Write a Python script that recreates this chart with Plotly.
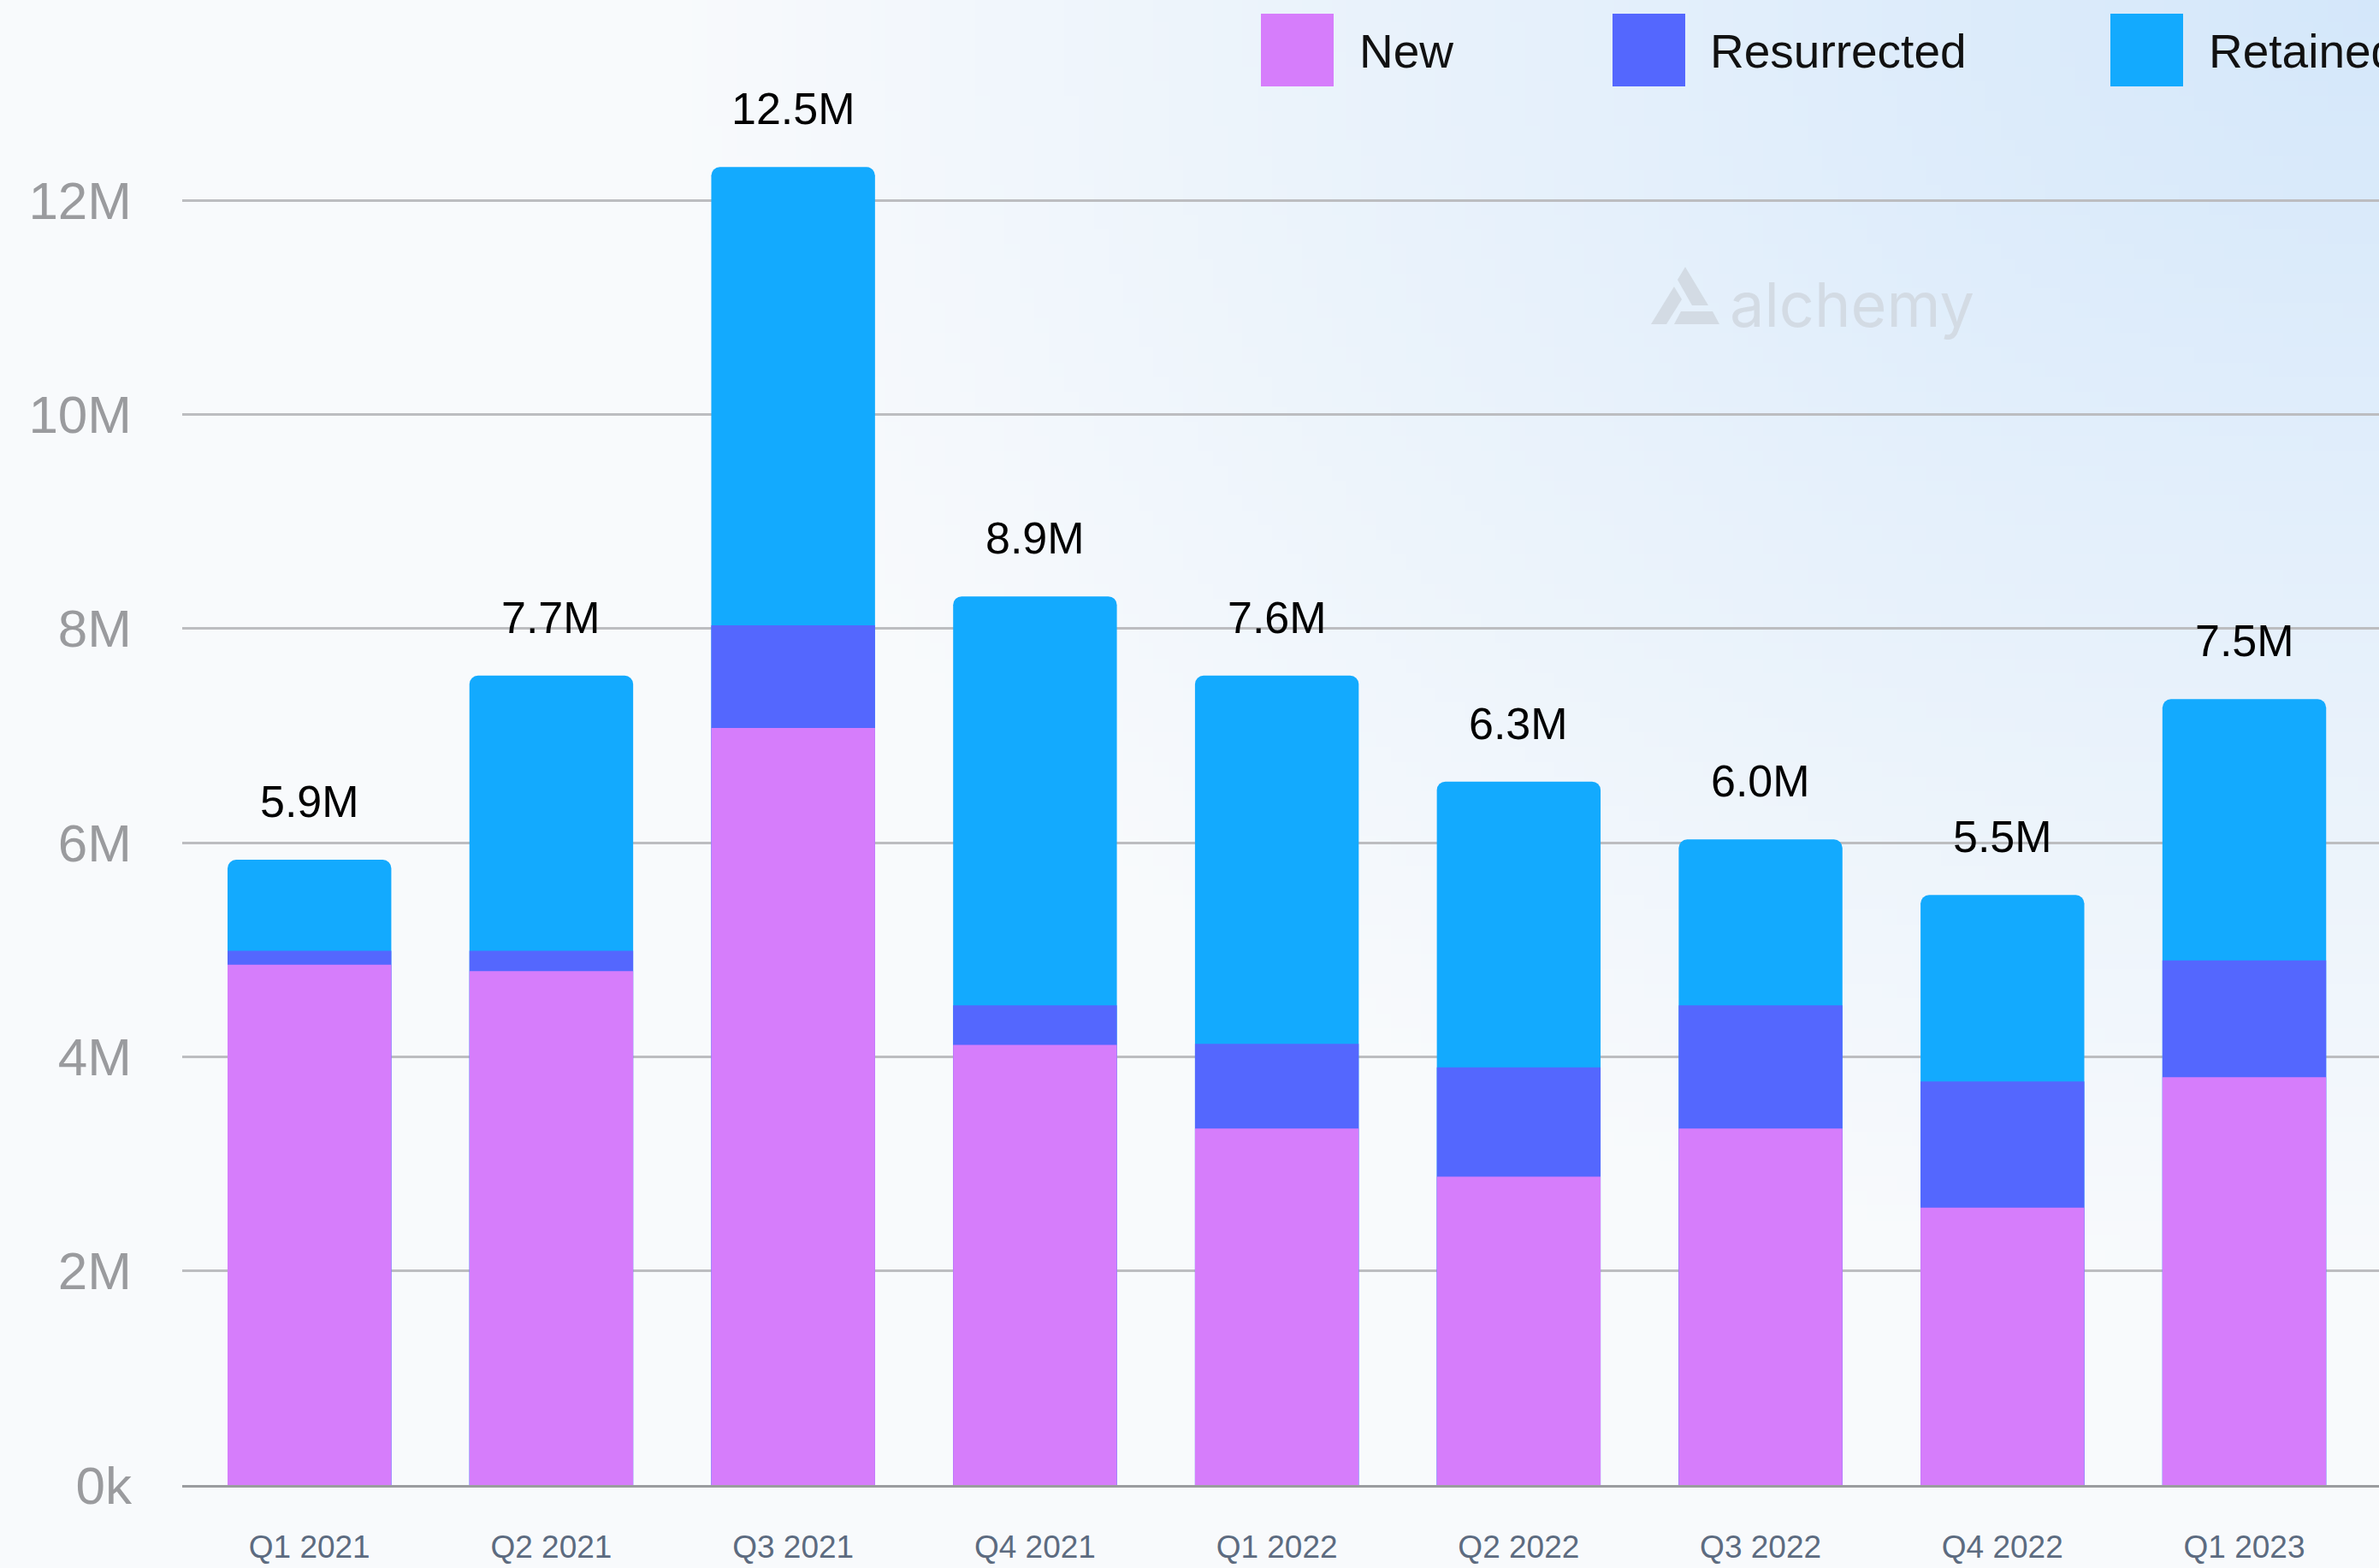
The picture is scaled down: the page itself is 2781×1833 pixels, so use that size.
import base64
import math
import struct
import zlib

import plotly.graph_objects as go

# ---- data (millions of users per quarter) ----
quarters = ['Q1 2021', 'Q2 2021', 'Q3 2021', 'Q4 2021', 'Q1 2022',
            'Q2 2022', 'Q3 2022', 'Q4 2022', 'Q1 2023']
new_users = [4.86, 4.80, 7.07, 4.11, 3.33, 2.88, 3.33, 2.59, 3.81]
resurrected_users = [0.13, 0.19, 0.96, 0.37, 0.79, 1.02, 1.15, 1.18, 1.09]
retained_users = [0.85, 2.57, 4.28, 3.82, 3.44, 2.67, 1.55, 1.74, 2.44]
total_labels = ['5.9M', '7.7M', '12.5M', '8.9M', '7.6M', '6.3M', '6.0M', '5.5M', '7.5M']

y_tickvals = [0, 2, 4, 6, 8, 10, 12]
y_ticktext = ['0k', '2M', '4M', '6M', '8M', '10M', '12M']

W, H = 2781, 1833
FONT = 'Liberation Sans'
C_NEW = '#d67dfb'
C_RES = '#5467fe'
C_RET = '#13aafe'


def px(x, y):
    # figure pixels -> paper fraction (margins are zero)
    return x / W, 1 - y / H


def gradient_png(w, h):
    # soft blue glow coming from the top right corner
    def chunk(tag, data):
        return (struct.pack('>I', len(data)) + tag + data +
                struct.pack('>I', zlib.crc32(tag + data) & 0xffffffff))
    base = (248, 250, 252)
    blue = (212, 231, 250)
    raw = bytearray()
    for j in range(h):
        raw.append(0)
        for i in range(w):
            X = (i + 0.5) / w * W
            Y = (j + 0.5) / h * H
            d = math.sqrt(((W - X) / 2000) ** 2 + (Y / 1500) ** 2)
            t = max(0.0, 1 - d)
            for k in range(3):
                raw.append(round(base[k] + t * (blue[k] - base[k])))
    png = (b'\x89PNG\r\n\x1a\n' +
           chunk(b'IHDR', struct.pack('>IIBBBBB', w, h, 8, 2, 0, 0, 0)) +
           chunk(b'IDAT', zlib.compress(bytes(raw))) +
           chunk(b'IEND', b''))
    return 'data:image/png;base64,' + base64.b64encode(png).decode()


# overlaid bars: each segment is drawn from zero up to its cumulative height
cum_res = [n + r for n, r in zip(new_users, resurrected_users)]
cum_total = [c + r for c, r in zip(cum_res, retained_users)]

fig = go.Figure()
fig.add_trace(go.Bar(x=quarters, y=cum_total, name='Retained', marker_color=C_RET,
                     marker_line_width=0, width=0.677))
fig.add_trace(go.Bar(x=quarters, y=cum_res, name='Resurrected', marker_color=C_RES,
                     marker_line_width=0, width=0.677))
fig.add_trace(go.Bar(x=quarters, y=new_users, name='New', marker_color=C_NEW,
                     marker_line_width=0, width=0.677))

# total labels above bars
for q, tot, lab in zip(quarters, cum_total, total_labels):
    fig.add_annotation(x=q, y=tot, text=lab, showarrow=False, yanchor='middle',
                       yshift=68, font=dict(family=FONT, size=52, color='#000000'))

# custom legend (big swatches), last entry runs off the right edge as in the original
shapes = []
legend_items = [('New', C_NEW, 1474, 1587), ('Resurrected', C_RES, 1885, 1997),
                ('Retained', C_RET, 2467, 2580)]
for name, color, sx, tx in legend_items:
    x0, y0 = px(sx, 101)
    x1, y1 = px(sx + 85, 16)
    shapes.append(dict(type='rect', xref='paper', yref='paper', x0=x0, y0=y0, x1=x1, y1=y1,
                       fillcolor=color, line_width=0, layer='above'))
    ax, ay = px(tx, 60)
    fig.add_annotation(xref='paper', yref='paper', x=ax, y=ay, text=name, showarrow=False,
                       xanchor='left', yanchor='middle',
                       font=dict(family=FONT, size=55, color='#111111'))

# alchemy watermark
logo_parts = [
    [(1930, 379), (1957, 335), (1966, 350), (1948, 379)],
    [(1961, 327), (1970, 312), (1997, 357), (1978, 357)],
    [(1957, 379), (1965, 364), (2002, 364), (2010, 379)],
]
for part in logo_parts:
    pts = [px(x, y) for x, y in part]
    path = 'M ' + ' L '.join(f'{a:.5f},{b:.5f}' for a, b in pts) + ' Z'
    shapes.append(dict(type='path', xref='paper', yref='paper', path=path,
                       fillcolor='#d3dbe4', line_width=0, layer='below'))
wx, wy = px(2020, 356)
fig.add_annotation(xref='paper', yref='paper', x=wx, y=wy, text='alchemy', showarrow=False,
                   xanchor='left', yanchor='middle',
                   font=dict(family='Inter', size=72, color='#d3dbe4'))

fig.update_layout(
    width=W, height=H,
    margin=dict(l=0, r=0, t=0, b=0),
    barmode='overlay',
    barcornerradius=10,
    showlegend=False,
    paper_bgcolor='#f8fafc',
    plot_bgcolor='rgba(0,0,0,0)',
    shapes=shapes,
    images=[dict(source=gradient_png(160, 106), xref='paper', yref='paper', x=0, y=1,
                 sizex=1, sizey=1, sizing='stretch', xanchor='left', yanchor='top',
                 layer='below')],
)
fig.update_xaxes(
    domain=[213 / W, 1], range=[-0.526, 8.557], automargin=False,
    showgrid=False, showline=True, linecolor='#9a9c9f', linewidth=3,
    ticks='', ticklabelstandoff=38,
    tickfont=dict(family=FONT, size=37, color='#5c6b80'),
)
fig.update_yaxes(
    domain=[1 - 1736 / H, 1], range=[0, 13.87], automargin=False,
    tickvals=y_tickvals, ticktext=y_ticktext,
    showgrid=True, gridcolor='#bcbdc0', gridwidth=3, zeroline=False,
    ticks='', ticklabelstandoff=58,
    tickfont=dict(family=FONT, size=62, color='#9a9b9e'),
)

fig.write_html('out.html', config={'displayModeBar': False},
               post_script="document.body.style.margin='0';document.body.style.overflow='hidden';")
